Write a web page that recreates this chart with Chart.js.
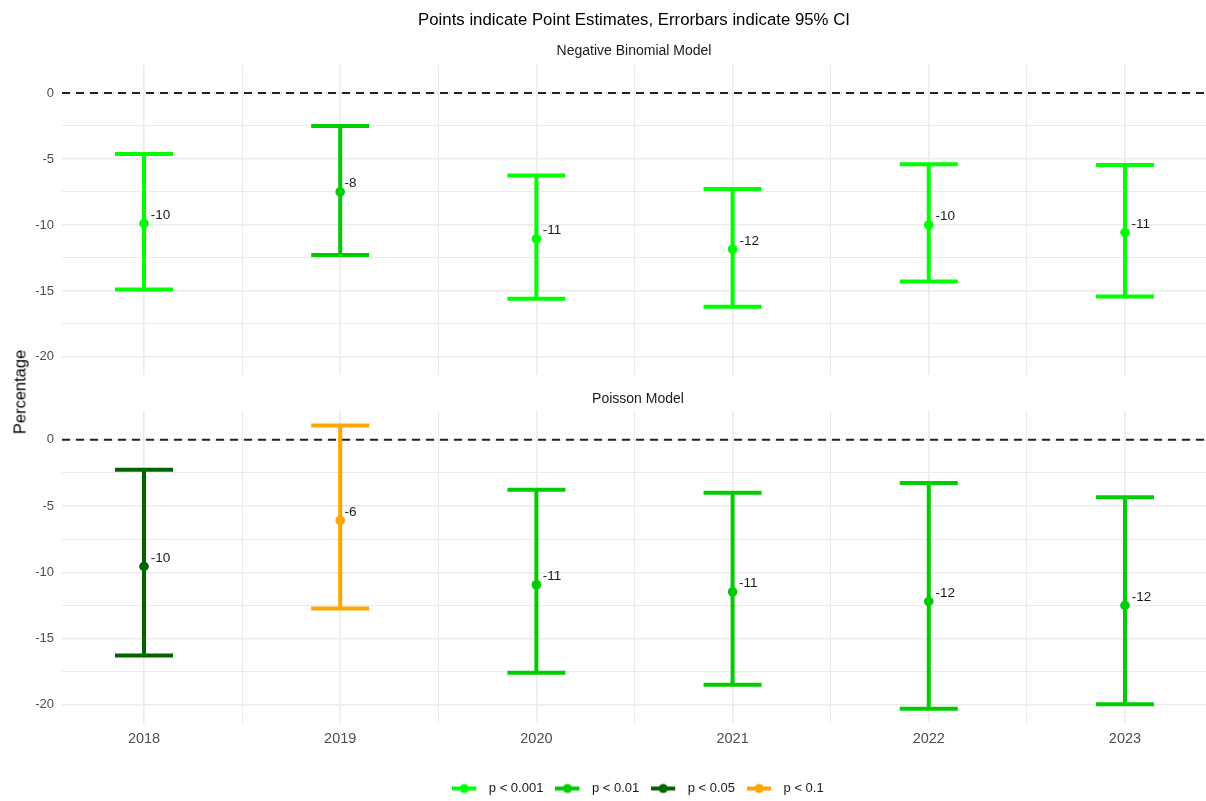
<!DOCTYPE html>
<html><head><meta charset="utf-8">
<script src="https://cdn.jsdelivr.net/npm/chart.js@4.4.1/dist/chart.umd.min.js"></script>
<style>
html,body{margin:0;padding:0;background:#fff;overflow:hidden;}
#wrap{position:relative;width:1206px;height:801px;overflow:hidden;background:#fff;}
canvas{position:absolute;left:0;}
#ylab{position:absolute;left:20px;top:392px;transform:translate(-50%,-50%) rotate(-90deg);font-family:"Liberation Sans",Arial,sans-serif;font-size:16.5px;font-weight:normal;color:#000;white-space:nowrap;}
</style></head><body>
<div id="wrap">
<canvas id="cA" width="1268" height="408" style="top:0;width:1268px;height:408px"></canvas>
<canvas id="cB" width="1276" height="437" style="top:378px;width:1276px;height:437px"></canvas>
<div id="ylab">Percentage</div>
</div>
<script>
// ---- data ----
const years = [2018, 2019, 2020, 2021, 2022, 2023];

const nbEstimate = [-9.9, -7.5, -11.06, -11.84, -10.0, -10.58];
const nbLower    = [-14.9, -12.27, -15.6, -16.19, -14.29, -15.43];
const nbUpper    = [-4.62, -2.5, -6.26, -7.27, -5.4, -5.45];
const nbSig      = ['p < 0.001', 'p < 0.01', 'p < 0.001', 'p < 0.001', 'p < 0.001', 'p < 0.001'];
const nbLabels   = ['-10', '-8', '-11', '-12', '-10', '-11'];

const poEstimate = [-9.56, -6.09, -10.94, -11.47, -12.2, -12.5];
const poLower    = [-16.28, -12.73, -17.58, -18.49, -20.3, -19.95];
const poUpper    = [-2.26, 1.08, -3.77, -4.0, -3.27, -4.33];
const poSig      = ['p < 0.05', 'p < 0.1', 'p < 0.01', 'p < 0.01', 'p < 0.01', 'p < 0.01'];
const poLabels   = ['-10', '-6', '-11', '-11', '-12', '-12'];

const sigLevels = ['p < 0.001', 'p < 0.01', 'p < 0.05', 'p < 0.1'];
const sigColors = ['#00FF00', '#00CC00', '#006400', '#FFA500'];

const titleText = 'Points indicate Point Estimates, Errorbars indicate 95% CI';
const panelNames = ['Negative Binomial Model', 'Poisson Model'];

// ---- styling ----
const FONT = '"Liberation Sans", Arial, sans-serif';
Chart.defaults.font.family = FONT;
const xMin = 2017.582, xMax = 2023.413;
const yMin = -21.37, yMax = 2.17;
const colorOf = s => sigColors[sigLevels.indexOf(s)];

function buildDatasets(est, low, high, sig) {
  const ds = [{
    label: 'estimate', yAxisID: 'y',
    data: years.map((yr, i) => ({x: yr, y: est[i]})),
    pointRadius: 4.8, pointHoverRadius: 4.8,
    pointBackgroundColor: sig.map(colorOf),
    pointBorderWidth: 0, showLine: false
  }];
  years.forEach((yr, i) => {
    const c = colorOf(sig[i]);
    ds.push({
      label: 'ci' + yr, yAxisID: 'y',
      data: [{x: yr, y: low[i]}, {x: yr, y: high[i]}],
      showLine: true, borderColor: c, borderWidth: 4, borderCapStyle: 'butt',
      pointStyle: 'line', pointRadius: 29, pointHoverRadius: 29,
      pointBorderWidth: 4, pointBorderColor: c, pointBackgroundColor: c
    });
  });
  return ds;
}

const zeroLine = {
  id: 'zeroLine',
  beforeDatasetsDraw(chart) {
    const {ctx, chartArea: a, scales: {y}} = chart;
    const py = y.getPixelForValue(0);
    ctx.save();
    ctx.setLineDash([8, 6]);
    ctx.lineWidth = 1.8;
    ctx.strokeStyle = '#222';
    ctx.beginPath(); ctx.moveTo(a.left, py); ctx.lineTo(a.right, py); ctx.stroke();
    ctx.restore();
  }
};

const estLabels = {
  id: 'estLabels',
  afterDatasetsDraw(chart, args, opts) {
    const meta = chart.getDatasetMeta(0);
    const ctx = chart.ctx;
    ctx.save();
    ctx.font = '13.5px ' + FONT;
    ctx.fillStyle = '#1a1a1a';
    ctx.textAlign = 'left';
    ctx.textBaseline = 'alphabetic';
    opts.labels.forEach((t, i) => {
      const el = meta.data[i];
      const w = ctx.measureText(t).width;
      ctx.fillText(t, el.x + 0.35 * w, el.y - 4.5);
    });
    ctx.restore();
  }
};

function scalesCfg(showX, xHeight, extraRight) {
  return {
    x: {
      type: 'linear', min: xMin, max: xMax,
      border: {display: false},
      grid: {color: '#ebebeb', drawTicks: false,
             lineWidth: c => (c.tick && Number.isInteger(c.tick.value)) ? 1.6 : 1},
      ticks: {display: showX, stepSize: 0.5, includeBounds: false, autoSkip: false,
              maxRotation: 0, padding: 7, color: '#4d4d4d', font: {size: 14.5},
              callback: v => Number.isInteger(v) ? String(v) : ''},
      afterFit: s => { s.height = xHeight; }
    },
    y: {
      type: 'linear', min: yMin, max: yMax,
      border: {display: false},
      grid: {color: '#ebebeb', drawTicks: false,
             lineWidth: c => (c.tick && c.tick.value % 5 === 0) ? 1.6 : 1},
      ticks: {stepSize: 2.5, includeBounds: false, padding: 8, color: '#4d4d4d', font: {size: 13},
              callback: v => (v % 5 === 0) ? String(v === 0 ? 0 : v) : ''},
      afterFit: s => { s.width = 62; }
    },
    yR: {
      type: 'linear', position: 'right', display: true,
      grid: {display: false, drawTicks: false}, border: {display: false},
      ticks: {display: false},
      afterFit: s => { s.width = extraRight; }
    }
  };
}

function legendIcon(color) {
  const c = document.createElement('canvas');
  c.width = 30; c.height = 12;
  const g = c.getContext('2d');
  g.strokeStyle = color; g.lineWidth = 4;
  g.beginPath(); g.moveTo(0, 6); g.lineTo(24, 6); g.stroke();
  g.fillStyle = color;
  g.beginPath(); g.arc(12, 6, 4.6, 0, Math.PI * 2); g.fill();
  return c;
}
const legendIcons = sigColors.map(legendIcon);

new Chart(document.getElementById('cA'), {
  type: 'scatter',
  data: {datasets: buildDatasets(nbEstimate, nbLower, nbUpper, nbSig)},
  options: {
    responsive: false, animation: false, devicePixelRatio: 1, events: [],
    layout: {padding: {left: 0, right: 0, top: 0, bottom: 5}},
    scales: scalesCfg(false, 0, 62),
    plugins: {
      legend: {display: false}, tooltip: {enabled: false},
      title: {display: true, text: titleText, color: '#000',
              font: {size: 16.8, weight: 'normal'}, padding: {top: 10, bottom: 6}},
      subtitle: {display: true, text: panelNames[0], color: '#1a1a1a',
                 font: {size: 14, weight: 'normal'}, padding: {top: 7, bottom: 4.4}},
      estLabels: {labels: nbLabels}
    }
  },
  plugins: [zeroLine, estLabels]
});

new Chart(document.getElementById('cB'), {
  type: 'scatter',
  data: {datasets: buildDatasets(poEstimate, poLower, poUpper, poSig)},
  options: {
    responsive: false, animation: false, devicePixelRatio: 1, events: [],
    layout: {padding: {left: 0, right: 0, top: 0, bottom: 10}},
    scales: scalesCfg(true, 47, 70),
    plugins: {
      tooltip: {enabled: false},
      title: {display: false},
      subtitle: {display: true, text: panelNames[1], color: '#1a1a1a',
                 font: {size: 14, weight: 'normal'}, padding: {top: 4, bottom: 3.6}},
      legend: {
        display: true, position: 'bottom', onClick: null,
        labels: {
          usePointStyle: true, pointStyleWidth: 30, boxHeight: 10, padding: 12,
          color: '#1a1a1a', font: {size: 13},
          generateLabels: () => sigLevels.map((s, i) => ({
            text: s, pointStyle: legendIcons[i], fillStyle: sigColors[i],
            strokeStyle: sigColors[i], lineWidth: 0, hidden: false, fontColor: '#1a1a1a'
          }))
        }
      },
      estLabels: {labels: poLabels}
    }
  },
  plugins: [zeroLine, estLabels]
});
</script>
</body></html>
